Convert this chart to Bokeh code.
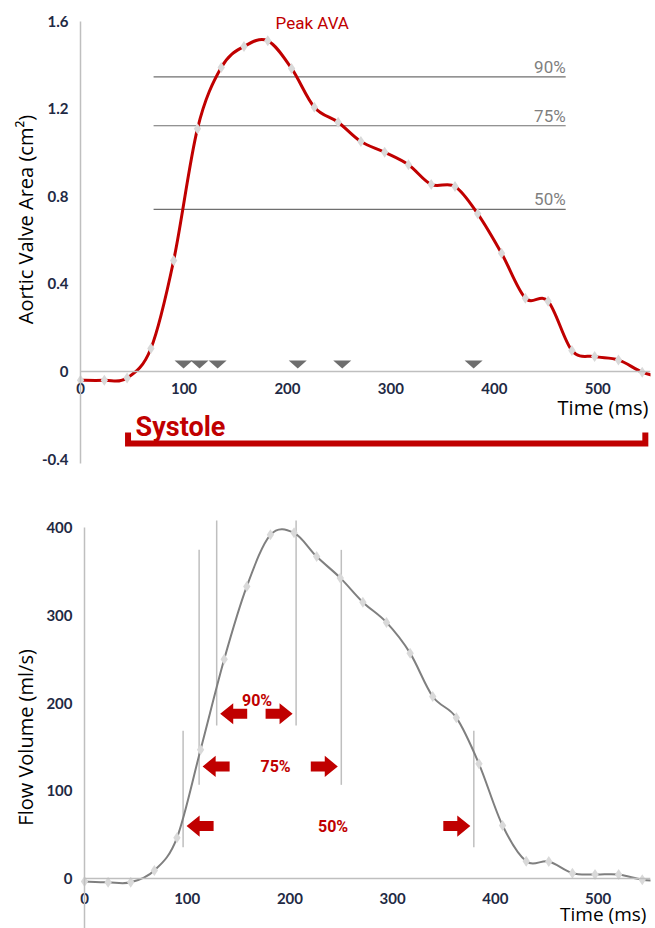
import math
from bokeh.plotting import figure
from bokeh.layouts import column
from bokeh.models import Range1d, Label, FixedTicker, ColumnDataSource
from bokeh.embed import file_html
from bokeh.resources import INLINE

# ---------------- data ----------------
time_ms = [0, 23, 45, 68, 90, 113, 136, 158, 181, 204, 226, 249, 271,
           294, 317, 339, 362, 384, 407, 430, 452, 475, 497, 520, 543, 565]
ava_cm2 = [-0.04, -0.04, -0.03, 0.105, 0.507, 1.108, 1.388, 1.484, 1.51,
           1.384, 1.207, 1.138, 1.05, 1.001, 0.944, 0.854, 0.845, 0.72,
           0.54, 0.335, 0.321, 0.096, 0.068, 0.053, -0.003, -0.03]
flow_mls = [-3, -4, -4, 9.5, 46.7, 147, 250, 333, 391.7, 394, 367, 342.7,
            315, 292, 257, 207.6, 183.5, 131, 60.7, 20, 19.7, 6.4, 4.9,
            4.9, -1, -3]

level_names = ["90%", "75%", "50%"]
level_ava = [1.345, 1.122, 0.74]
level_x_start, level_x_end = 70.6, 469

ava_cross_times = [99.6, 115, 132.5, 210, 253, 380]

flow_cross_start = [128.7, 111.6, 96]    # 90%, 75%, 50%
flow_cross_end = [206, 250, 379]
flow_line_low = [174.5, 107, 36]
flow_line_high = [408, 374.6, 168.6]
arrow_level = [188, 128, 60]
arrow_label_x = [168, 186, 242]
arrow_label_y = [203, 128, 60]

x_ticks = [0, 100, 200, 300, 400, 500]
ava_ticks = [-0.4, 0, 0.4, 0.8, 1.2, 1.6]
ava_tick_labels = ["-0.4", "0", "0.4", "0.8", "1.2", "1.6"]
flow_ticks = [0, 100, 200, 300, 400]
flow_tick_labels = ["0", "100", "200", "300", "400"]

RED = "#c00000"
AXIS_GRAY = "#bfbfbf"
TICK_COLOR = "#1f2a44"


def bezier_source(xs, ys):
    n = len(xs)
    d = dict(x0=[], y0=[], x1=[], y1=[], cx0=[], cy0=[], cx1=[], cy1=[])
    for i in range(n - 1):
        a = max(i - 1, 0)
        b = min(i + 2, n - 1)
        d["x0"].append(xs[i]); d["y0"].append(ys[i])
        d["x1"].append(xs[i + 1]); d["y1"].append(ys[i + 1])
        d["cx0"].append(xs[i] + (xs[i + 1] - xs[a]) / 6.0)
        d["cy0"].append(ys[i] + (ys[i + 1] - ys[a]) / 6.0)
        d["cx1"].append(xs[i + 1] - (xs[b] - xs[i]) / 6.0)
        d["cy1"].append(ys[i + 1] - (ys[b] - ys[i]) / 6.0)
    return ColumnDataSource(d)


def style_axes(p, left_standoff, below_standoff, x_bounds, y_bounds):
    p.grid.visible = False
    p.outline_line_color = None
    for ax in (p.xaxis[0], p.yaxis[0]):
        ax.axis_line_color = AXIS_GRAY
        ax.axis_line_width = 1.5
        ax.major_tick_line_color = None
        ax.minor_tick_line_color = None
        ax.major_tick_out = 0
        ax.major_tick_in = 0
        ax.major_label_text_font = "Lato"
        ax.major_label_text_font_style = "bold"
        ax.major_label_text_font_size = "15px"
        ax.major_label_text_color = TICK_COLOR
        ax.fixed_location = 0
    p.yaxis[0].major_label_standoff = left_standoff
    p.xaxis[0].major_label_standoff = below_standoff
    p.xaxis[0].ticker = FixedTicker(ticks=x_ticks)
    p.xaxis[0].bounds = x_bounds
    p.yaxis[0].bounds = y_bounds


# ---------------- top chart ----------------
p1 = figure(width=655, height=475, x_range=Range1d(-77.4, 551),
            y_range=Range1d(-0.4749, 1.694), output_backend="svg",
            toolbar_location=None, min_border_left=0, min_border_right=5,
            min_border_top=0, min_border_bottom=0)
style_axes(p1, 12, 12, (0, 551), (-0.418, 1.6))
p1.yaxis[0].ticker = FixedTicker(ticks=ava_ticks)
p1.yaxis[0].major_label_overrides = {t: s for t, s in zip(ava_ticks, ava_tick_labels)}

# threshold lines
p1.segment(x0=[level_x_start] * 3, x1=[level_x_end] * 3, y0=level_ava,
           y1=level_ava, line_color="#6f6f6f", line_width=1.2)
for name, lv in zip(level_names, level_ava):
    p1.add_layout(Label(x=level_x_end, y=lv, text=name, text_align="right",
                        text_baseline="bottom", text_font="Roboto",
                        text_font_size="17px", text_color="#7f7f7f"))

# smooth curve
p1.bezier(x0="x0", y0="y0", x1="x1", y1="y1", cx0="cx0", cy0="cy0",
          cx1="cx1", cy1="cy1", source=bezier_source(time_ms, ava_cm2),
          line_color=RED, line_width=3, line_cap="round")
p1.scatter(time_ms, ava_cm2, marker="diamond", size=11, fill_color="#d9d9d9",
           line_color=None)

# crossing triangles
tri_half_w = 8.7
tri_top = 0.05
tri_tip = 0.014
p1.patches(xs=[[t - tri_half_w, t + tri_half_w, t] for t in ava_cross_times],
           ys=[[tri_top, tri_top, tri_tip] for _ in ava_cross_times],
           fill_color="#6e6e6e", line_color=None)

# systole bracket
sys_left, sys_right = 45.9, 546
bar_y, tick_top = -0.329, -0.279
p1.line([sys_left, sys_left, sys_right, sys_right],
        [tick_top, bar_y, bar_y, tick_top], line_color=RED, line_width=6,
        line_join="miter")
p1.add_layout(Label(x=53.2, y=-0.255, text="Systole", text_font="Roboto",
                    text_font_style="bold", text_font_size="27px",
                    text_color=RED, text_baseline="alphabetic"))

p1.add_layout(Label(x=224, y=1.589, text="Peak AVA", text_align="center",
                    text_baseline="middle", text_font="Roboto",
                    text_font_size="17px", text_color=RED))
p1.add_layout(Label(x=549, y=-0.163, text="Time (ms)", text_align="right",
                    text_baseline="middle", text_font="Open Sans",
                    text_font_size="20px", text_color="black"))
p1.add_layout(Label(x=-53.2, y=0.694, text="Aortic Valve Area (cm²)",
                    angle=math.pi / 2, text_align="center",
                    text_baseline="middle", text_font="Open Sans",
                    text_font_size="20px", text_color="black"))

# ---------------- bottom chart ----------------
p2 = figure(width=655, height=453, x_range=Range1d(-81.76, 551),
            y_range=Range1d(-56.6, 459.3), output_backend="svg",
            toolbar_location=None, min_border_left=0, min_border_right=5,
            min_border_top=0, min_border_bottom=0)
style_axes(p2, 12, 14, (0, 551), (-56.6, 400))
p2.yaxis[0].ticker = FixedTicker(ticks=flow_ticks)
p2.yaxis[0].major_label_overrides = {t: s for t, s in zip(flow_ticks, flow_tick_labels)}

# vertical marker lines
vx, vlo, vhi = [], [], []
for a, b, lo, hi in zip(flow_cross_start, flow_cross_end, flow_line_low, flow_line_high):
    vx += [a, b]; vlo += [lo, lo]; vhi += [hi, hi]
p2.segment(x0=vx, x1=vx, y0=vlo, y1=vhi, line_color=AXIS_GRAY, line_width=1.5)

p2.bezier(x0="x0", y0="y0", x1="x1", y1="y1", cx0="cx0", cy0="cy0",
          cx1="cx1", cy1="cy1", source=bezier_source(time_ms, flow_mls),
          line_color="#7f7f7f", line_width=2, line_cap="round")
p2.scatter(time_ms, flow_mls, marker="diamond", size=11, fill_color="#d9d9d9",
           line_color=None)

# block arrows
L, HEAD, TH, HH, GAP = 26.3, 12.7, 5.7, 12.0, 3.4
axs, ays = [], []
for a, b, y in zip(flow_cross_start, flow_cross_end, arrow_level):
    tip = a + GAP
    axs.append([tip, tip + HEAD, tip + HEAD, tip + L, tip + L, tip + HEAD, tip + HEAD])
    ays.append([y, y + HH, y + TH, y + TH, y - TH, y - TH, y - HH])
    tip = b - GAP
    axs.append([tip, tip - HEAD, tip - HEAD, tip - L, tip - L, tip - HEAD, tip - HEAD])
    ays.append([y, y + HH, y + TH, y + TH, y - TH, y - TH, y - HH])
p2.patches(xs=axs, ys=ays, fill_color=RED, line_color=None)
for name, lx, ly in zip(level_names, arrow_label_x, arrow_label_y):
    p2.add_layout(Label(x=lx, y=ly, text=name, text_align="center",
                        text_baseline="middle", text_font="Roboto",
                        text_font_style="bold", text_font_size="16px",
                        text_color=RED))

p2.add_layout(Label(x=547, y=-40.5, text="Time (ms)", text_align="right",
                    text_baseline="middle", text_font="Open Sans",
                    text_font_size="19px", text_color="black"))
p2.add_layout(Label(x=-57.4, y=161, text="Flow Volume (ml/s)",
                    angle=math.pi / 2, text_align="center",
                    text_baseline="middle", text_font="Open Sans",
                    text_font_size="20px", text_color="black"))

layout = column(p1, p2, spacing=0)
open("out.html", "w").write(file_html(layout, INLINE))
